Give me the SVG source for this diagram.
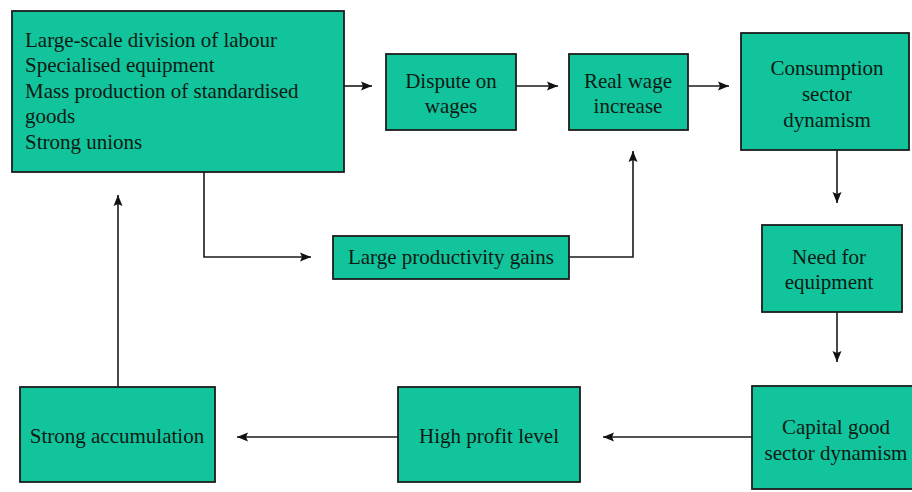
<svg xmlns="http://www.w3.org/2000/svg" width="912" height="492" viewBox="0 0 912 492">
<style>
.box{fill:#12c49c;stroke:#1c1c1c;stroke-width:1.8}
.t{font-family:"Liberation Serif","Times New Roman",serif;font-size:21px;fill:#0c1a14}
.c{text-anchor:middle}
.ln{fill:none;stroke:#1a1a1a;stroke-width:1.6}
</style>
<defs>
<marker id="ah" viewBox="0 0 11 10" refX="11" refY="5" markerWidth="11" markerHeight="10" markerUnits="userSpaceOnUse" orient="auto">
<path d="M0,0.5 L11,5 L0,9.5 L2,5 Z" fill="#111111"/>
</marker>
</defs>
<rect width="912" height="492" fill="#ffffff"/>
<g id="connectors">
<path class="ln" d="M344,86 H372" marker-end="url(#ah)"/>
<path class="ln" d="M516,86 H558" marker-end="url(#ah)"/>
<path class="ln" d="M688,86 H729" marker-end="url(#ah)"/>
<path class="ln" d="M837,150 V203" marker-end="url(#ah)"/>
<path class="ln" d="M837,312 V362" marker-end="url(#ah)"/>
<path class="ln" d="M752,437 H603" marker-end="url(#ah)"/>
<path class="ln" d="M398,437 H237" marker-end="url(#ah)"/>
<path class="ln" d="M118,387 V195" marker-end="url(#ah)"/>
<path class="ln" d="M204,172 V257 H311" marker-end="url(#ah)"/>
<path class="ln" d="M569,257 H633 V151" marker-end="url(#ah)"/>
</g>
<g id="fordism">
<rect class="box" x="12" y="11" width="332" height="161"/>
<text class="t" x="25" y="47">Large-scale division of labour</text>
<text class="t" x="25" y="72">Specialised equipment</text>
<text class="t" x="25" y="98">Mass production of standardised</text>
<text class="t" x="25" y="123">goods</text>
<text class="t" x="25" y="149">Strong unions</text>
</g>
<g id="dispute">
<rect class="box" x="386" y="54" width="130" height="76"/>
<text class="t c" x="451" y="88">Dispute on</text>
<text class="t c" x="451" y="113">wages</text>
</g>
<g id="realwage">
<rect class="box" x="569" y="54" width="119" height="76"/>
<text class="t c" x="628" y="88">Real wage</text>
<text class="t c" x="628" y="113">increase</text>
</g>
<g id="consumption">
<rect class="box" x="741" y="33" width="168" height="117"/>
<text class="t c" x="827" y="75">Consumption</text>
<text class="t c" x="827" y="101">sector</text>
<text class="t c" x="827" y="127">dynamism</text>
</g>
<g id="need">
<rect class="box" x="762" y="225" width="140" height="87"/>
<text class="t c" x="829" y="264">Need for</text>
<text class="t c" x="829" y="289">equipment</text>
</g>
<g id="capital">
<rect class="box" x="752" y="386" width="170" height="103"/>
<text class="t c" x="836" y="434">Capital good</text>
<text class="t c" x="836" y="460">sector dynamism</text>
</g>
<g id="profit">
<rect class="box" x="398" y="387" width="182" height="95"/>
<text class="t c" x="489" y="443">High profit level</text>
</g>
<g id="accumulation">
<rect class="box" x="20" y="387" width="195" height="95"/>
<text class="t c" x="117" y="443">Strong accumulation</text>
</g>
<g id="productivity">
<rect class="box" x="333" y="236" width="236" height="43"/>
<text class="t c" x="451" y="264">Large productivity gains</text>
</g>
</svg>
